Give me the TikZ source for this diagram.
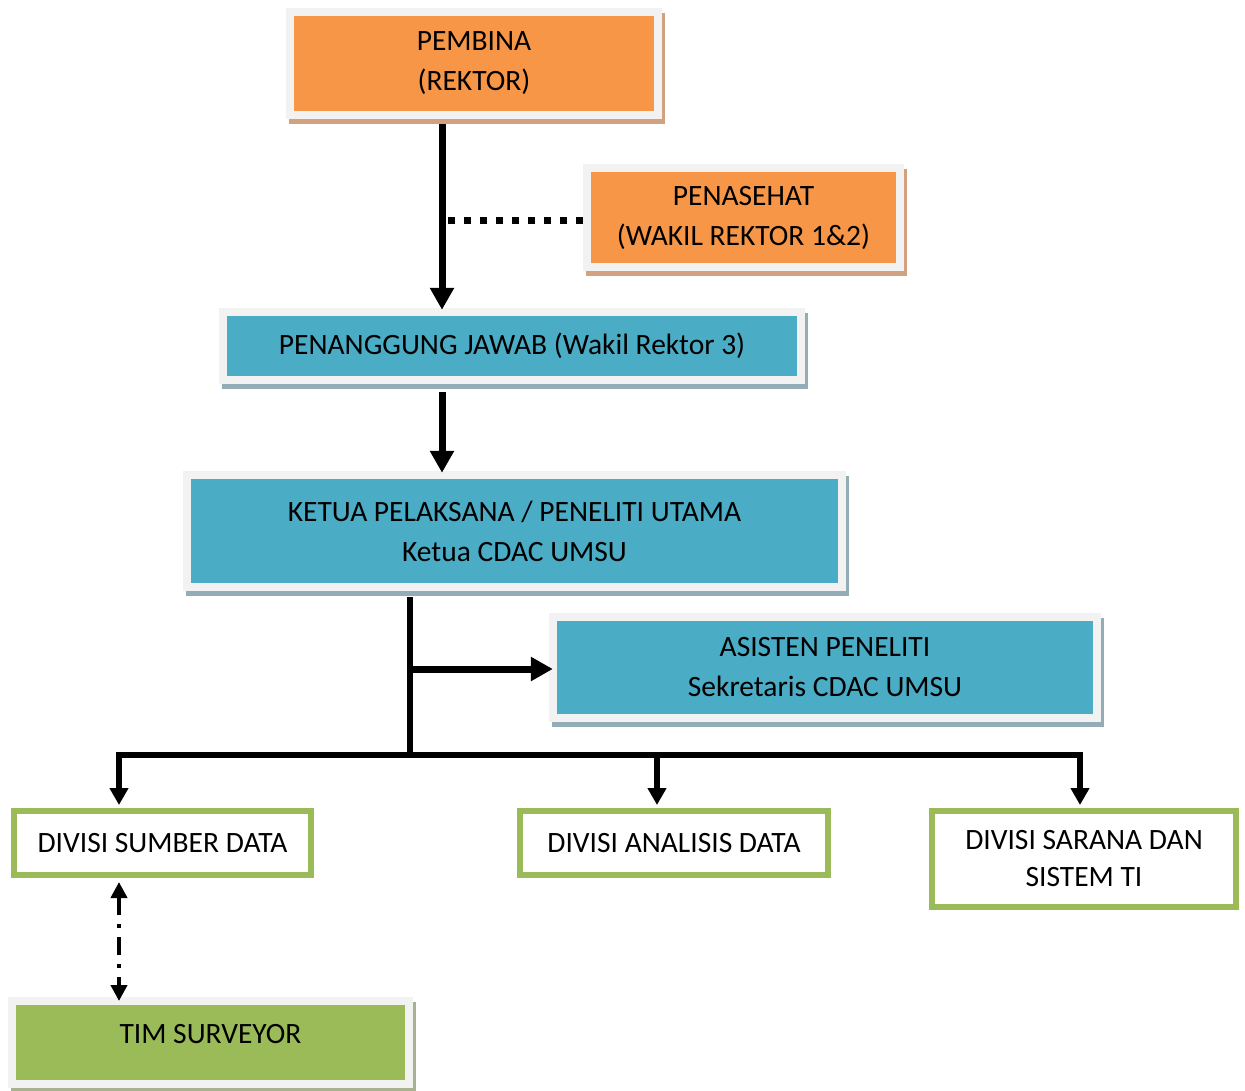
\documentclass[tikz,border=0pt]{standalone}
\usepackage{fontspec}
\setmainfont{Carlito}
\usetikzlibrary{arrows.meta,backgrounds,calc}
\definecolor{orangefill}{HTML}{F79646}
\definecolor{bluefill}{HTML}{4BACC6}
\definecolor{greenfill}{HTML}{9BBB59}
\definecolor{framegray}{HTML}{F2F2F2}
\definecolor{tanshadow}{HTML}{D2A27F}
\definecolor{blueshadow}{HTML}{93ACB6}
\definecolor{greenshadow}{HTML}{A9B290}
\tikzset{
  x=1pt, y=-1pt,
  txt/.style={font=\fontsize{29.5}{40}\selectfont, align=center, text=black},
  obox/.style={txt, rectangle, fill=orangefill, inner sep=0pt},
  bbox/.style={txt, rectangle, fill=bluefill, inner sep=0pt},
  gbox/.style={txt, rectangle, fill=greenfill, inner sep=0pt},
  divbox/.style={txt, rectangle, fill=white, draw=greenfill, line width=6pt, inner sep=0pt},
  bigarr/.style={line width=7pt, -{Triangle[width=23pt,length=22pt]}},
  smallarr/.style={line width=5.5pt, -{Triangle[width=18pt,length=17pt]}},
  busline/.style={line width=5.5pt},
  dotline/.style={line width=7pt, dash pattern=on 7pt off 9pt},
  dashdotarr/.style={line width=4pt, dash pattern=on 18pt off 9pt on 4pt off 9pt, {Triangle[width=16pt,length=16pt]}-{Triangle[width=16pt,length=16pt]}}
}
\newcommand{\framedshadow}[2]{%
  \fill[#2] ($(#1.north west)+(-5,-3)$) rectangle ($(#1.south east)+(11,13)$);
  \fill[framegray] ($(#1.north west)+(-8,-8)$) rectangle ($(#1.south east)+(8,8)$);
}
\begin{document}
\begin{tikzpicture}
\useasboundingbox (0,0) rectangle (1245,1090);

% boxes
\node[obox, minimum width=360pt, minimum height=95pt] (pembina) at (474,63.5) {PEMBINA\\(REKTOR)};
\node[obox, minimum width=305pt, minimum height=91pt] (penasehat) at (743.5,217.5) {PENASEHAT\\(WAKIL REKTOR 1\&2)};
\node[bbox, minimum width=570pt, minimum height=60pt] (pjawab) at (512,346) {PENANGGUNG JAWAB (Wakil Rektor 3)};
\node[bbox, minimum width=647pt, minimum height=104pt] (ketua) at (514.5,531) {KETUA PELAKSANA / PENELITI UTAMA\\Ketua CDAC UMSU};
\node[bbox, minimum width=536pt, minimum height=93pt] (asisten) at (825,667.5) {ASISTEN PENELITI\\Sekretaris CDAC UMSU};
\node[divbox, minimum width=297pt, minimum height=64pt] (dsumber) at (162.5,843) {DIVISI SUMBER DATA};
\node[divbox, minimum width=308pt, minimum height=64pt] (danalisis) at (674,843) {DIVISI ANALISIS DATA};
\node[divbox, minimum width=304pt, minimum height=96pt, font=\fontsize{29.5}{37}\selectfont] (dsarana) at (1084,859) {DIVISI SARANA DAN\\SISTEM TI};
\node[gbox, minimum width=389pt, text height=38pt, text depth=37pt, anchor=north] (tim) at (210.5,1005) {TIM SURVEYOR};

\begin{scope}[on background layer]
  \fill[white] (0,0) rectangle (1245,1090);
  \framedshadow{pembina}{tanshadow}
  \framedshadow{penasehat}{tanshadow}
  \framedshadow{pjawab}{blueshadow}
  \framedshadow{ketua}{blueshadow}
  \framedshadow{asisten}{blueshadow}
  \framedshadow{tim}{greenshadow}
\end{scope}

% coordinates for connectors
\coordinate (xa) at (442,0);
\coordinate (xb) at (410,0);
\coordinate (bus) at (0,755);
\coordinate (xs) at (119,0);
\coordinate (xn) at (657,0);
\coordinate (xr) at (1080,0);
\coordinate (ya) at (0,669);

% connectors
\draw[bigarr, shorten >=6pt] ([yshift=-13pt]xa |- pembina.south) -- (xa |- pjawab.north);
\draw[dotline, shorten >=8pt] ([xshift=6pt,yshift=-2.5pt]xa |- penasehat.west) -- ([yshift=-2.5pt]penasehat.west);
\draw[bigarr, shorten >=6pt] ([yshift=-16pt]xa |- pjawab.south) -- (xa |- ketua.north);
\draw[busline] ([yshift=-14pt]xb |- ketua.south) -- ([yshift=-2.75pt]xb |- bus);
\draw[bigarr, shorten >=4pt] ([xshift=2pt]xb |- ya) -- (asisten.west |- ya);
\draw[busline, line cap=rect] (xs |- bus) -- (xr |- bus);
\draw[smallarr, shorten >=3pt] (xs |- bus) -- (xs |- dsumber.north);
\draw[smallarr, shorten >=3pt] (xn |- bus) -- (xn |- danalisis.north);
\draw[smallarr, shorten >=3pt] (xr |- bus) -- (xr |- dsarana.north);
\draw[dashdotarr, shorten <=4pt, shorten >=4pt] (xs |- dsumber.south) -- (xs |- tim.north);
\end{tikzpicture}
\end{document}
